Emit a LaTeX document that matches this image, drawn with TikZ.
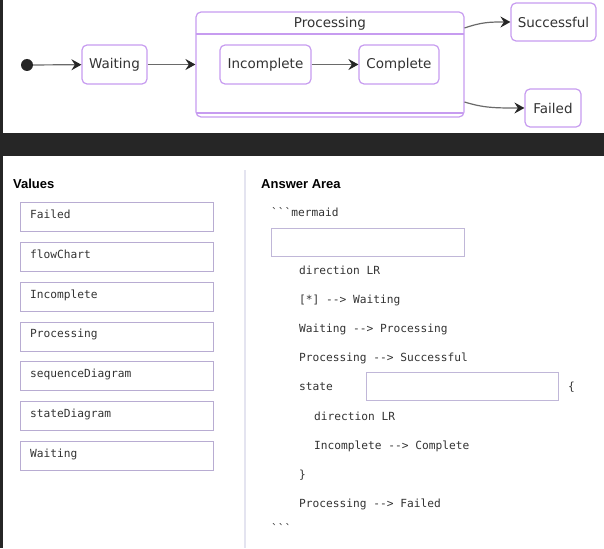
\documentclass[tikz,border=0pt]{standalone}
\usepackage{fontspec}
\setmainfont{DejaVu Sans}
\newfontfamily\diagfont{DejaVu Sans}
\newfontfamily\codefont{DejaVu Sans Mono}
\newfontfamily\headfont{Liberation Sans}
\usetikzlibrary{arrows.meta}
\definecolor{stbord}{HTML}{C79CF0}
\definecolor{txt}{HTML}{333333}
\definecolor{edge}{HTML}{6A6A6A}
\definecolor{band}{HTML}{262626}
\definecolor{valbord}{HTML}{B8ACD2}
\definecolor{ansbord}{HTML}{C0B7D8}
\definecolor{divider}{HTML}{E4E4F0}
\tikzset{
  stnode/.style={draw=stbord, line width=1.2pt, rounded corners=5pt, fill=white,
    text=txt, font=\diagfont\fontsize{13.5}{15}\selectfont, inner sep=0pt},
  trans/.style={draw=edge, line width=1.2pt, -{Stealth[length=10pt,width=11pt,inset=3.5pt,color=band]}},
  valbox/.style={draw=valbord, line width=1pt, minimum width=193pt, minimum height=29pt, inner sep=0pt},
  ansbox/.style={draw=ansbord, line width=1pt, inner sep=0pt},
  code/.style={anchor=base west, inner sep=0pt, text=txt, font=\codefont\fontsize{11.2}{13}\selectfont},
  head/.style={anchor=base west, inner sep=0pt, text=black, font=\headfont\bfseries\fontsize{13}{15}\selectfont}
}
\begin{document}
\begin{tikzpicture}[x=1pt,y=-1pt]
\useasboundingbox (0,0) rectangle (604,548);
\fill[white] (0,0) rectangle (604,548);
% frame parts
\fill[band] (0,133) rectangle (604,156);
\fill[band] (0,0) rectangle (2.5,548);
\draw[divider, line width=1.5pt] (245,170) -- (245,548);

% ---------- state diagram ----------
\node[circle, fill=band, minimum size=12pt, inner sep=0pt] (start) at (27,65) {};
\node[stnode, minimum width=65pt, minimum height=39pt] (wait) at (114.5,64.5) {Waiting};
\node[stnode, minimum width=268pt, minimum height=105pt, fill=none] (proc) at (330,64.5) {};
\draw[stbord, line width=1.2pt] (196,34) -- (464,34);
\draw[stbord, line width=1.2pt] (196.6,113) -- (463.4,113);
\node[text=txt, font=\diagfont\fontsize{13.5}{15}\selectfont, inner sep=0pt] (proctitle) at (330,24) {Processing};
\node[stnode, minimum width=91pt, minimum height=39pt] (inc) at (265.5,64.5) {Incomplete};
\node[stnode, minimum width=80pt, minimum height=39pt] (comp) at (399,64.5) {Complete};
\node[stnode, minimum width=85pt, minimum height=38pt] (succ) at (553.5,22) {Successful};
\node[stnode, minimum width=56pt, minimum height=38pt] (fail) at (553,108) {Failed};

\coordinate (ps) at (464.5,28);
\coordinate (pf) at (464.5,102);
\draw[trans] (start) -- (wait);
\draw[trans] (wait) -- (proc.west |- wait.east);
\draw[trans] (inc) -- (comp);
\draw[trans] (ps) .. controls (482,22) and (490,22) .. (succ.west);
\draw[trans] (pf) .. controls (484,108) and (495,108) .. (fail.west);

% ---------- values ----------
\node[head] (valhead) at (13,188) {Values};
\foreach \t [count=\i from 0] in {Failed,flowChart,Incomplete,Processing,sequenceDiagram,stateDiagram,Waiting}{
  \node[valbox] (v\i) at (116.5,217.2+39.8*\i) {};
  \node[code] (vt\i) at (30,218.5+39.8*\i) {\t};
}

% ---------- answer area ----------
\node[head] (anshead) at (261,188) {Answer Area};
\node[code] (c0) at (271,216) {```mermaid};
\node[ansbox, minimum width=193pt, minimum height=28pt] (box1) at (367.5,242) {};
\node[code] (c1) at (299,274) {direction LR};
\node[code] (c2) at (299,303) {[*] --> Waiting};
\node[code] (c3) at (299,332) {Waiting --> Processing};
\node[code] (c4) at (299,361) {Processing --> Successful};
\node[code] (c5) at (299,390) {state};
\node[ansbox, minimum width=192pt, minimum height=28pt] (box2) at (462,386) {};
\node[code] (c6) at (568,390) {\{};
\node[code] (c7) at (314,420) {direction LR};
\node[code] (c8) at (314,449) {Incomplete --> Complete};
\node[code] (c9) at (299,478) {\}};
\node[code] (c10) at (299,507) {Processing --> Failed};
\node[code] (c11) at (271,532) {```};
\end{tikzpicture}
\end{document}
